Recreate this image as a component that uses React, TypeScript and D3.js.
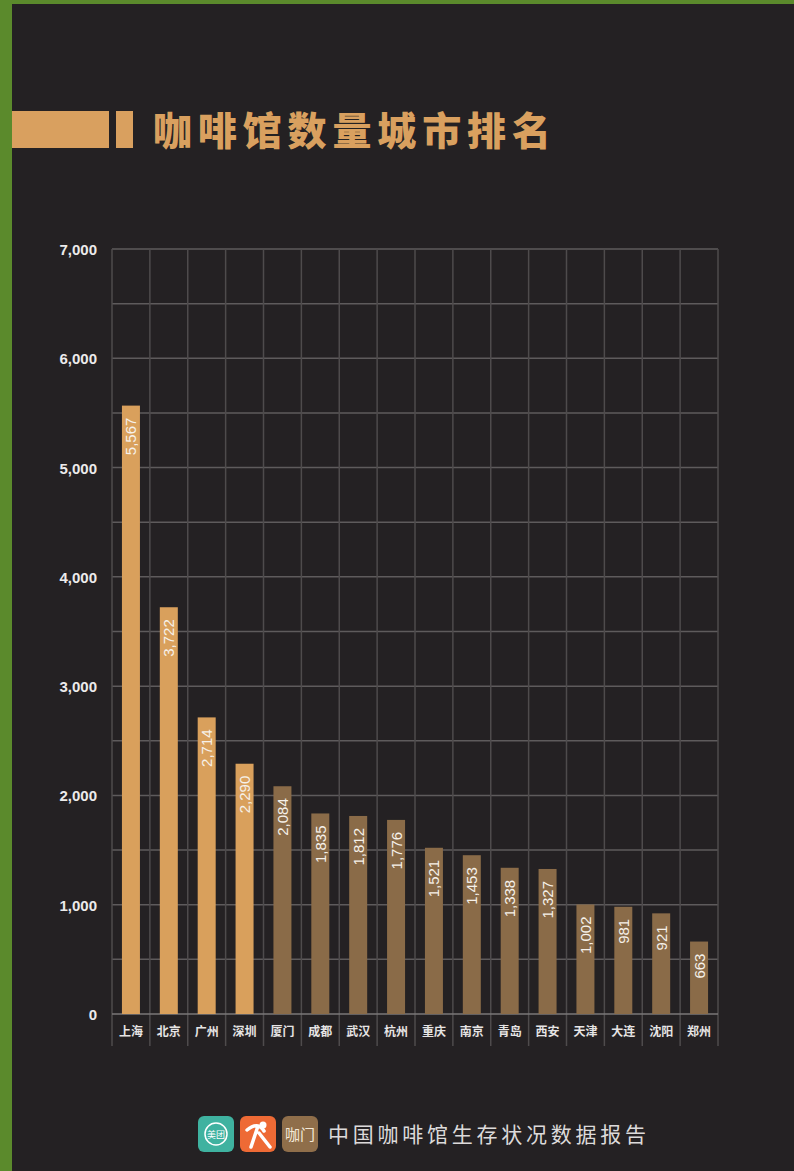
import React, { useEffect, useRef } from "react";
import * as d3 from "d3";

const cities = ["上海", "北京", "广州", "深圳", "厦门", "成都", "武汉", "杭州", "重庆", "南京", "青岛", "西安", "天津", "大连", "沈阳", "郑州"];
const counts = [5567, 3722, 2714, 2290, 2084, 1835, 1812, 1776, 1521, 1453, 1338, 1327, 1002, 981, 921, 663];
const highlighted = [true, true, true, true, false, false, false, false, false, false, false, false, false, false, false, false];
const yTicks = [0, 1000, 2000, 3000, 4000, 5000, 6000, 7000];
const gridValues = [500, 1000, 1500, 2000, 2500, 3000, 3500, 4000, 4500, 5000, 5500, 6000, 6500, 7000];
const title = "咖啡馆数量城市排名";
const footer = "中国咖啡馆生存状况数据报告";

const W = 794, H = 1171;
const left = 112, right = 718, top = 249, bottom = 1014;

export default function App() {
  const ref = useRef<SVGSVGElement>(null);
  useEffect(() => {
    const svg = d3.select(ref.current);
    svg.selectAll("*").remove();
    // background
    svg.append("rect").attr("width", W).attr("height", H).attr("fill", "#5b8a2c");
    svg.append("rect").attr("x", 12).attr("y", 4).attr("width", W - 12).attr("height", H - 4).attr("fill", "#242123");

    // title
    svg.append("rect").attr("x", 12).attr("y", 111).attr("width", 97).attr("height", 37).attr("fill", "#d9a05f");
    svg.append("rect").attr("x", 116).attr("y", 111).attr("width", 17).attr("height", 37).attr("fill", "#d9a05f");
    svg.append("text").attr("x", 153).attr("y", 145).attr("fill", "#d9a05f")
      .attr("font-family", "'Noto Sans CJK SC', sans-serif").attr("font-weight", 900)
      .attr("font-size", 39).attr("textLength", 398).attr("lengthAdjust", "spacing").text(title);

    const x = d3.scaleBand<string>().domain(cities).range([left, right]).paddingInner(0).paddingOuter(0);
    const y = d3.scaleLinear().domain([0, 7000]).range([bottom, top]);

    const g = svg.append("g");
    // horizontal grid
    g.selectAll("line.h").data(gridValues).join("line").attr("class", "h")
      .attr("x1", left).attr("x2", right).attr("y1", d => y(d)).attr("y2", d => y(d))
      .attr("stroke", "#5e5b5c").attr("stroke-width", 1.5);
    // vertical grid
    const vx = cities.map(c => x(c)!).concat([right]);
    g.selectAll("line.v").data(vx).join("line").attr("class", "v")
      .attr("x1", d => d).attr("x2", d => d).attr("y1", top).attr("y2", bottom + 32)
      .attr("stroke", "#4e4b4c").attr("stroke-width", 1.5);
    // baseline
    g.append("line").attr("x1", left).attr("x2", right).attr("y1", bottom).attr("y2", bottom)
      .attr("stroke", "#7a7778").attr("stroke-width", 1.5);

    // y labels
    g.selectAll("text.y").data(yTicks).join("text").attr("class", "y")
      .attr("x", 97).attr("y", d => y(d) + 6).attr("text-anchor", "end")
      .attr("fill", "#ecebeb").attr("font-family", "'Liberation Sans', Arial, sans-serif")
      .attr("font-weight", 700).attr("font-size", 15).text(d => d3.format(",")(d));

    // bars
    const bw = 18;
    g.selectAll("rect.bar").data(counts).join("rect").attr("class", "bar")
      .attr("x", (d, i) => x(cities[i])! + x.bandwidth() / 2 - bw / 2)
      .attr("y", d => y(d)).attr("width", bw).attr("height", d => bottom - y(d))
      .attr("fill", (d, i) => highlighted[i] ? "#d9a05c" : "#8a6b48");

    // value labels
    g.selectAll("text.val").data(counts).join("text").attr("class", "val")
      .attr("transform", (d, i) => `translate(${x(cities[i])! + x.bandwidth() / 2 + 5.5},${y(d) + 12}) rotate(-90)`)
      .attr("text-anchor", "end").attr("fill", "#f6f1ea")
      .attr("font-family", "'Liberation Sans', Arial, sans-serif").attr("font-size", 15)
      .text(d => d3.format(",")(d));

    // x labels
    g.selectAll("text.x").data(cities).join("text").attr("class", "x")
      .attr("x", d => x(d)! + x.bandwidth() / 2).attr("y", 1036).attr("text-anchor", "middle")
      .attr("fill", "#e6e4e4").attr("font-family", "'Noto Sans CJK SC', sans-serif")
      .attr("font-weight", 700).attr("font-size", 12).text(d => d);

    // footer logos
    const logos = [
      { x: 198, fill: "#3fb2a0" },
      { x: 240, fill: "#ee6a35" },
      { x: 282, fill: "#8f6e4a" },
    ];
    logos.forEach(l => {
      svg.append("rect").attr("x", l.x).attr("y", 1116).attr("width", 36).attr("height", 36).attr("rx", 6).attr("fill", l.fill);
    });
    svg.append("circle").attr("cx", 216).attr("cy", 1134).attr("r", 11).attr("fill", "none").attr("stroke", "#ffffff").attr("stroke-width", 1.5);
    svg.append("text").attr("x", 216).attr("y", 1138).attr("text-anchor", "middle").attr("fill", "#ffffff")
      .attr("font-family", "'Noto Sans CJK SC', sans-serif").attr("font-size", 9).text("美团");
    // dianping figure
    svg.append("circle").attr("cx", 263).attr("cy", 1125).attr("r", 3.5).attr("fill", "#ffffff");
    svg.append("path").attr("d", "M247,1130 Q258,1121 264,1131 M258,1126 L251,1147 M259,1133 L270,1147")
      .attr("fill", "none").attr("stroke", "#ffffff").attr("stroke-width", 3.5).attr("stroke-linecap", "round");
    svg.append("text").attr("x", 300).attr("y", 1140).attr("text-anchor", "middle").attr("fill", "#f4e9d8")
      .attr("font-family", "'Noto Sans CJK SC', sans-serif").attr("font-size", 15).text("咖门");
    svg.append("text").attr("x", 328).attr("y", 1142).attr("fill", "#dcdada")
      .attr("font-family", "'Noto Sans CJK SC', sans-serif").attr("font-size", 21)
      .attr("textLength", 318).attr("lengthAdjust", "spacing").text(footer);
  }, []);
  return <svg ref={ref} width={W} height={H} style={{ position: "absolute", left: 0, top: 0, display: "block" }} />;
}
